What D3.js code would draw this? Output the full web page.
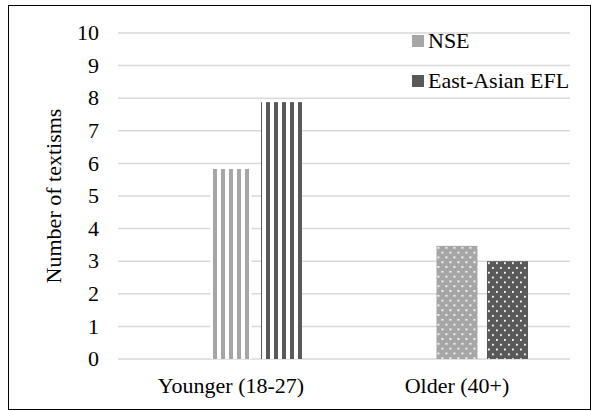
<!DOCTYPE html>
<html><head><meta charset="utf-8">
<script src="https://cdn.jsdelivr.net/npm/d3@7"></script>
<style>html,body{margin:0;padding:0;background:#fff;}</style>
</head><body><svg id="c" width="592" height="411"></svg>
<script>
const categories = ["Younger (18-27)", "Older (40+)"];
const seriesNames = ["NSE", "East-Asian EFL"];
const nseValues = [5.83, 3.47];
const eflValues = [7.88, 3.0];
const yTicks = [0,1,2,3,4,5,6,7,8,9,10];
const seriesColors = ["#a6a6a6", "#595959"];

const FONT = '"Liberation Serif", "Times New Roman", serif';
const svg = d3.select("#c");
const W = 592, H = 411;
// frame
svg.append("rect").attr("x",8.5).attr("y",5.5).attr("width",W-10).attr("height",H-7)
  .attr("fill","none").attr("stroke","#000").attr("stroke-width",1);

const plot = {left:118, right:570, top:33, bottom:359};
const x0 = d3.scaleBand().domain(categories).range([plot.left, plot.right]).paddingInner(0).paddingOuter(0);
const y = d3.scaleLinear().domain([0,10]).range([plot.bottom, plot.top]);
// three slots per category; first slot is unused (empty series), as in the source
const x1 = d3.scaleBand().domain(["", ...seriesNames]).range([0, 142]).paddingInner(0.188);
const slotShift = x0.bandwidth()/2 - (x1(seriesNames[0]) + x1.bandwidth()/2);

// gridlines
svg.append("g").selectAll("line").data(yTicks).join("line")
  .attr("x1",plot.left).attr("x2",plot.right)
  .attr("y1",d=>y(d)).attr("y2",d=>y(d))
  .attr("stroke","#d9d9d9").attr("stroke-width",1.5);

// y tick labels
svg.append("g").selectAll("text").data(yTicks).join("text")
  .attr("x",99).attr("y",d=>y(d)).attr("dy","0.33em")
  .attr("text-anchor","end").attr("font-size",22).style("font-family",FONT).attr("fill","#000").text(d=>d);

// y axis title
svg.append("text").attr("transform",`translate(61,${(plot.top+plot.bottom)/2}) rotate(-90)`)
  .attr("text-anchor","middle").attr("font-size",22).style("font-family",FONT).attr("fill","#000").text("Number of textisms");

// x labels
svg.append("g").selectAll("text").data(categories).join("text")
  .attr("x",d=>x0(d)+x0.bandwidth()/2).attr("y",393)
  .attr("text-anchor","middle").attr("font-size",22).style("font-family",FONT).attr("fill","#000").text(d=>d);

// bars data
const bars = [];
categories.forEach((c,ci)=>{
  seriesNames.forEach((s,si)=>{
    const v = si===0 ? nseValues[ci] : eflValues[ci];
    bars.push({c, ci, s, si, v});
  });
});
const defs = svg.append("defs");
bars.forEach((b,i)=>{
  const bx = x0(b.c) + slotShift + x1(b.s);
  b.x = bx; b.id = "p"+i;
  const col = seriesColors[b.si];
  if (b.ci === 0) {
    // vertical stripes pattern
    const off = b.si===0 ? 2.5 : -3;
    const p = defs.append("pattern").attr("id",b.id).attr("patternUnits","userSpaceOnUse")
      .attr("x",bx+off).attr("y",0).attr("width",8).attr("height",8);
    p.append("rect").attr("width",8).attr("height",8).attr("fill","#fff");
    p.append("rect").attr("x",0).attr("width",4).attr("height",8).attr("fill",col);
  } else {
    // dotted pattern
    const p = defs.append("pattern").attr("id",b.id).attr("patternUnits","userSpaceOnUse")
      .attr("x",bx+1).attr("y",y(b.v)+1).attr("width",8).attr("height",9.6);
    p.append("rect").attr("width",8).attr("height",9.6).attr("fill",col);
    p.append("rect").attr("x",0).attr("y",0).attr("width",1.8).attr("height",1.8).attr("fill","#fff");
    p.append("rect").attr("x",4).attr("y",4.8).attr("width",1.8).attr("height",1.8).attr("fill","#fff");
  }
});
svg.append("g").selectAll("rect").data(bars).join("rect")
  .attr("x",d=>d.x).attr("width",x1.bandwidth())
  .attr("y",d=>y(d.v)).attr("height",d=>y(0)-y(d.v))
  .attr("fill",d=>`url(#${d.id})`);

// legend
const lg = svg.append("g").selectAll("g").data(seriesNames).join("g")
  .attr("transform",(d,i)=>`translate(412,${35+i*40})`);
lg.append("rect").attr("width",12).attr("height",12).attr("fill",(d,i)=>seriesColors[i]);
lg.append("text").attr("x",16).attr("y",13).attr("font-size",22).style("font-family",FONT).attr("fill","#000").text(d=>d);
</script></body></html>
